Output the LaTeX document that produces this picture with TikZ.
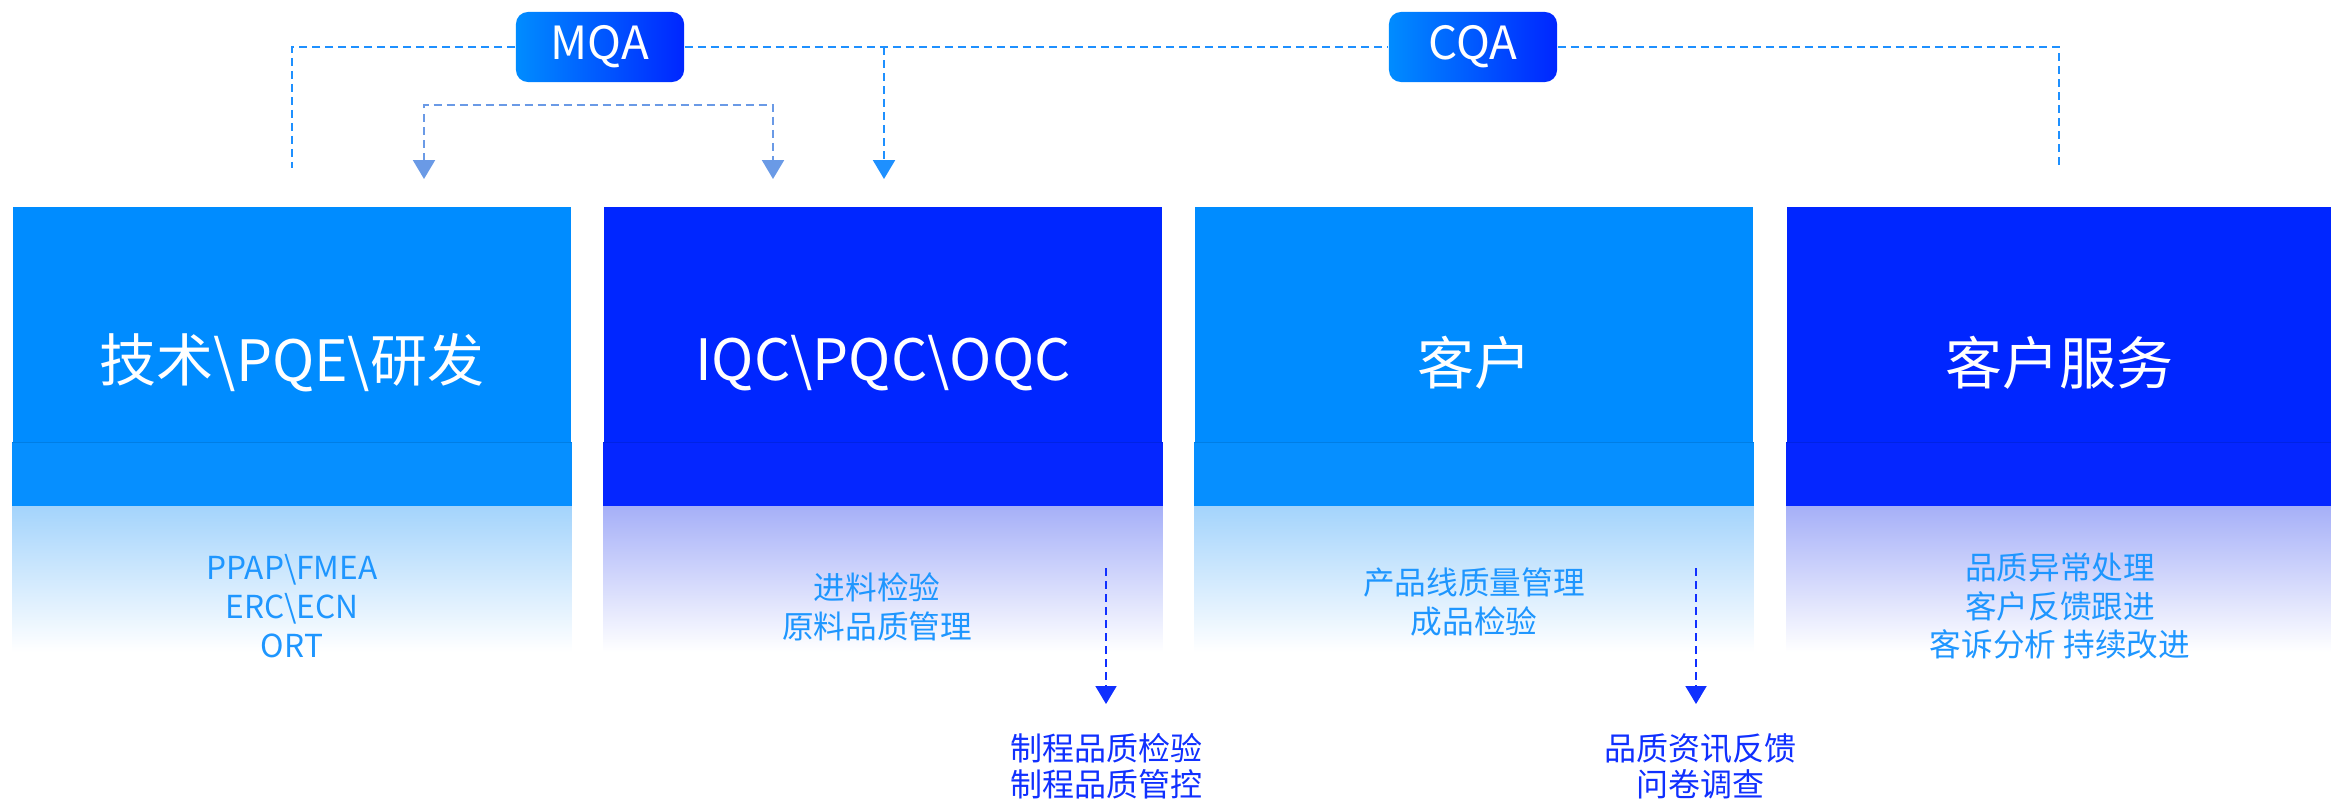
\documentclass[tikz,border=0pt]{standalone}
\usepackage{fontspec}
\setmainfont{Noto Sans CJK SC}
\usepackage{tikz}
\usetikzlibrary{arrows.meta,positioning}
\definecolor{skyblue}{RGB}{0,140,255}
\definecolor{deepblue}{RGB}{0,38,255}
\definecolor{skyband}{RGB}{6,143,255}
\definecolor{deepband}{RGB}{5,38,255}
\definecolor{skyrefl}{RGB}{164,212,252}
\definecolor{deeprefl}{RGB}{166,176,248}
\definecolor{linkblue}{RGB}{30,144,255}
\definecolor{bracketblue}{RGB}{106,154,230}
\definecolor{subblue}{RGB}{30,150,255}
\definecolor{noteblue}{RGB}{16,48,255}
\tikzstyle{block} = [rectangle, minimum width=5.58cm, minimum height=2.99cm, inner sep=0pt]
\tikzstyle{title} = [text=white, font=\fontsize{16.2}{19}\selectfont]
\tikzstyle{sub} = [text=subblue, align=center, font=\fontsize{9}{11}\selectfont]
\tikzstyle{note} = [text=noteblue, align=center, font=\fontsize{9.1}{10.3}\selectfont]
\tikzstyle{tag} = [rectangle, rounded corners=0.12cm, minimum width=1.68cm, minimum height=0.70cm,
left color=skyblue, right color=deepblue, text=white, font=\fontsize{13}{15}\selectfont]
\tikzstyle{link} = [linkblue, line width=0.6pt, dash pattern=on 0.08cm off 0.05cm,
-{Triangle[width=0.22cm,length=0.19cm]}]
\tikzstyle{bracket} = [bracketblue, line width=0.6pt, dash pattern=on 0.08cm off 0.05cm,
{Triangle[width=0.22cm,length=0.19cm]}-{Triangle[width=0.22cm,length=0.19cm]}]
\tikzstyle{drop} = [noteblue, line width=0.5pt, dash pattern=on 0.08cm off 0.05cm,
-{Triangle[width=0.21cm,length=0.18cm]}]

\begin{document}
\begin{tikzpicture}[x=0.01cm, y=-0.01cm]
		\useasboundingbox (0,0) rectangle (2331,799);
		%blocks
		\node[block, fill=skyblue](tech) at (292,356.5){};
		\node[block, fill=deepblue](iqc) at (883,356.5){};
		\node[block, fill=skyblue](cust) at (1474,356.5){};
		\node[block, fill=deepblue, minimum width=5.44cm](svc) at (2059,356.5){};
		
		%bands and reflections
		\foreach \b/\c in {tech/sky, iqc/deep, cust/sky, svc/deep}{
			\fill[\c band] ([yshift=0.64cm]\b.south west) rectangle (\b.south east);
			\draw[\c blue!90!black, line width=0.25pt] ([yshift=0.64cm]\b.south west) -- ([yshift=0.64cm]\b.south east);
			\shade[top color=\c refl, bottom color=white] (\b.south west) rectangle ([yshift=-1.45cm]\b.south east);
		}
		
		%titles
		\node[title](techT) at (292,363){技术\textbackslash PQE\textbackslash 研发};
		\node[title](iqcT) at (883,363){IQC\textbackslash PQC\textbackslash OQC};
		\node[title](custT) at (1474,363){客户};
		\node[title](svcT) at (2059,363){客户服务};
		
		%items
		\node[sub](techS) at (292,606){PPAP\textbackslash FMEA\\ERC\textbackslash ECN\\ORT};
		\node[sub](iqcS) at (877,607){进料检验\\原料品质管理};
		\node[sub](custS) at (1474,602){产品线质量管理\\成品检验};
		\node[sub](svcS) at (2060,606){品质异常处理\\客户反馈跟进\\客诉分析 持续改进};
		
		%tags
		\node[tag](mqa) at (600,47){MQA};
		\node[tag](cqa) at (1473,47){CQA};
		
		%ends
		\coordinate (techTop) at (292,168);
		\coordinate (iqcTop) at (884,179);
		\coordinate (svcTop) at (2059,168);
		\coordinate (techIn) at (424,179);
		\coordinate (iqcIn) at (773,179);
		\coordinate (iqcOut) at (1106,568);
		\coordinate (iqcEnd) at (1106,704);
		\coordinate (custOut) at (1696,568);
		\coordinate (custEnd) at (1696,704);
		
		%notes
		\node[note](iqcN) at (1106,766){制程品质检验\\制程品质管控};
		\node[note](custN) at (1700,766){品质资讯反馈\\问卷调查};
		
		%arrows
		\draw[link, -](mqa.west) -| (techTop);
		\draw[link, -](mqa.east) -- (cqa.west);
		\draw[link](mqa.east -| iqcTop) -- (iqcTop);
		\draw[link, -](cqa.east) -| (svcTop);
		\draw[bracket](techIn) -- ++(0,-74) -| (iqcIn);
		\draw[drop](iqcOut) -- (iqcEnd);
		\draw[drop](custOut) -- (custEnd);
	\end{tikzpicture}
\end{document}
